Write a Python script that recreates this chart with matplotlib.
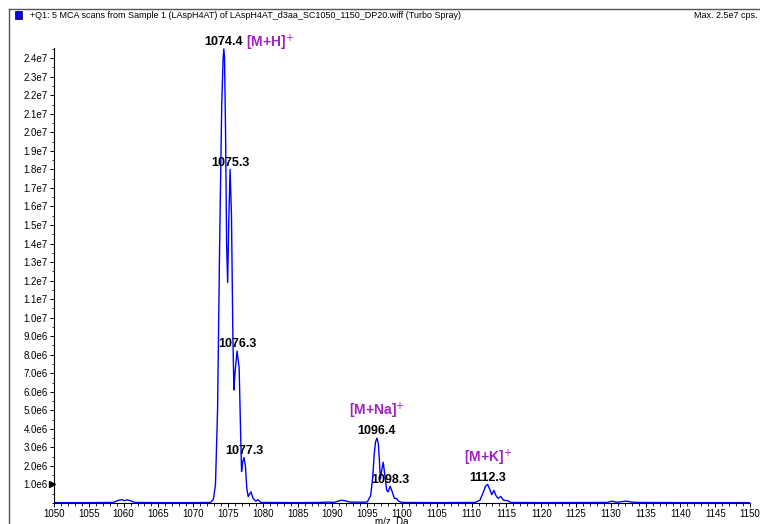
import numpy as np
import matplotlib.pyplot as plt
from matplotlib.ticker import MultipleLocator, FixedLocator
from matplotlib.lines import Line2D
from matplotlib.patches import Rectangle

plt.rcParams['font.family'] = ['Liberation Sans Narrow', 'Liberation Sans', 'DejaVu Sans']

# profile spectrum, m/z vs intensity (units of 1e6 cps)
mz = [1050.0, 1055.0, 1058.5, 1059.3, 1059.8, 1060.1, 1060.5, 1061.0, 1061.6,
      1065.0, 1070.0, 1072.5, 1072.9, 1073.2, 1073.5, 1073.8, 1074.1, 1074.3,
      1074.4, 1074.5, 1074.65, 1074.8, 1074.95, 1075.1, 1075.3, 1075.5, 1075.7,
      1075.85, 1076.0, 1076.3, 1076.6, 1076.8, 1076.95, 1077.1, 1077.3, 1077.5,
      1077.7, 1077.9, 1078.3, 1078.6, 1079.0, 1079.3, 1079.7, 1085.0, 1088.0,
      1089.5, 1090.2, 1091.3, 1091.8, 1092.5, 1094.0, 1095.0, 1095.5, 1095.8,
      1096.0, 1096.2, 1096.4, 1096.6, 1096.75, 1096.9, 1097.1, 1097.3, 1097.5,
      1097.8, 1098.0, 1098.3, 1098.6, 1098.9, 1099.2, 1099.5, 1100.0, 1105.0,
      1110.5, 1111.2, 1111.7, 1112.0, 1112.3, 1112.6, 1112.9, 1113.2, 1113.5,
      1113.8, 1114.2, 1114.6, 1115.2, 1115.6, 1120.0, 1129.5, 1130.2, 1130.8,
      1132.2, 1133.0, 1134.0, 1140.0, 1150.0]
intensity = [0.02, 0.02, 0.03, 0.15, 0.18, 0.12, 0.17, 0.12, 0.03,
             0.02, 0.02, 0.03, 0.2, 1.0, 5.0, 14.0, 21.5, 24.0,
             24.5, 24.0, 20.0, 14.0, 11.9, 15.0, 18.0, 15.5, 9.0,
             6.1, 7.0, 8.2, 7.3, 4.0, 1.7, 2.2, 2.45, 2.0,
             0.8, 0.35, 0.6, 0.25, 0.1, 0.18, 0.03, 0.02, 0.03,
             0.05, 0.03, 0.15, 0.12, 0.05, 0.04, 0.05, 0.4, 1.4,
             2.6, 3.3, 3.5, 3.2, 2.3, 1.3, 1.8, 2.2, 1.6,
             0.7, 0.6, 0.9, 0.6, 0.25, 0.25, 0.1, 0.03, 0.02,
             0.03, 0.15, 0.6, 0.9, 1.0, 0.75, 0.45, 0.68, 0.4,
             0.25, 0.35, 0.15, 0.12, 0.03, 0.02, 0.03, 0.1, 0.04,
             0.1, 0.05, 0.03, 0.02, 0.02]

# labelled peaks
peak_mz = [1074.4, 1075.3, 1076.3, 1077.3, 1096.4, 1098.3, 1112.3]
peak_int = [24.5, 18.0, 8.2, 2.45, 3.5, 0.9, 1.0]

# adduct annotations: text, m/z anchor, intensity anchor
adducts = ['[M+H]$^{+}$', '[M+Na]$^{+}$', '[M+K]$^{+}$']
adduct_mz = [1077.6, 1096.4, 1112.3]
adduct_int = [24.3, 4.4, 1.9]

ytick_vals = [v for v in range(1, 25)]
ytick_labels = ['1.0e6', '2.0e6', '3.0e6', '4.0e6', '5.0e6', '6.0e6', '7.0e6',
                '8.0e6', '9.0e6', '1.0e7', '1.1e7', '1.2e7', '1.3e7', '1.4e7',
                '1.5e7', '1.6e7', '1.7e7', '1.8e7', '1.9e7', '2.0e7', '2.1e7',
                '2.2e7', '2.3e7', '2.4e7']

scale = 1e6
W, H = 760, 524
fig = plt.figure(figsize=(W / 100, H / 100), dpi=100)
fig.patch.set_facecolor('white')

ax = fig.add_axes([54 / W, 1 - 503 / H, (750 - 54) / W, (503 - 48) / H])
ax.plot(np.array(mz), np.array(intensity) * scale, color='#0000ff', lw=1.0)

ax.set_xlim(1050, 1150)
ax.set_ylim(0, 24.55 * scale)
for s in ['top', 'right']:
    ax.spines[s].set_visible(False)
for s in ['left', 'bottom']:
    ax.spines[s].set_linewidth(0.8)

ax.xaxis.set_major_locator(MultipleLocator(5))
ax.xaxis.set_minor_locator(MultipleLocator(1))
ax.yaxis.set_major_locator(FixedLocator([v * scale for v in ytick_vals]))
ax.yaxis.set_minor_locator(MultipleLocator(0.5 * scale))
ax.set_yticklabels(ytick_labels)
ax.tick_params(axis='both', which='major', labelsize=7, length=3, width=0.7, pad=1.5)
ax.tick_params(axis='both', which='minor', length=1.8, width=0.6)

# small marker on the intensity axis
ax.plot([1049.75], [1.0 * scale], marker='>', color='black', ms=4, clip_on=False)

for m, v in zip(peak_mz, peak_int):
    ax.annotate(f'{m:.1f}', (m, v * scale), xytext=(0, 0.5), textcoords='offset points',
                ha='center', va='bottom', fontsize=9, fontweight='bold', color='black')

for t, m, v in zip(adducts, adduct_mz, adduct_int):
    ax.text(m, v * scale, t, ha='left' if t.startswith('[M+H') else 'center',
            va='bottom', fontsize=10, fontweight='bold', color='#a020c0',
            family=['Liberation Sans', 'DejaVu Sans'])

fig.text(392 / W, 1 - 522 / H, 'm/z, Da', ha='center', va='center', fontsize=7)

# outer frame and header
fig.add_artist(Line2D([9 / W, 1.0], [1 - 9 / H, 1 - 9 / H], transform=fig.transFigure,
                      color='#555555', lw=1.0))
fig.add_artist(Line2D([9 / W, 9 / W], [1 - 9 / H, 0.0], transform=fig.transFigure,
                      color='#555555', lw=1.0))
fig.add_artist(Rectangle((15 / W, 1 - 19 / H), 7 / W, 8 / H, transform=fig.transFigure,
                         facecolor='#0000ff', edgecolor='black', lw=0.5))
fig.text(30 / W, 1 - 15 / H,
         '+Q1: 5 MCA scans from Sample 1 (LAspH4AT) of LAspH4AT_d3aa_SC1050_1150_DP20.wiff (Turbo Spray)',
         ha='left', va='center', fontsize=6.5)
fig.text(757 / W, 1 - 15 / H, 'Max. 2.5e7 cps.', ha='right', va='center', fontsize=6.5)

fig.savefig('out.png', dpi=100)
